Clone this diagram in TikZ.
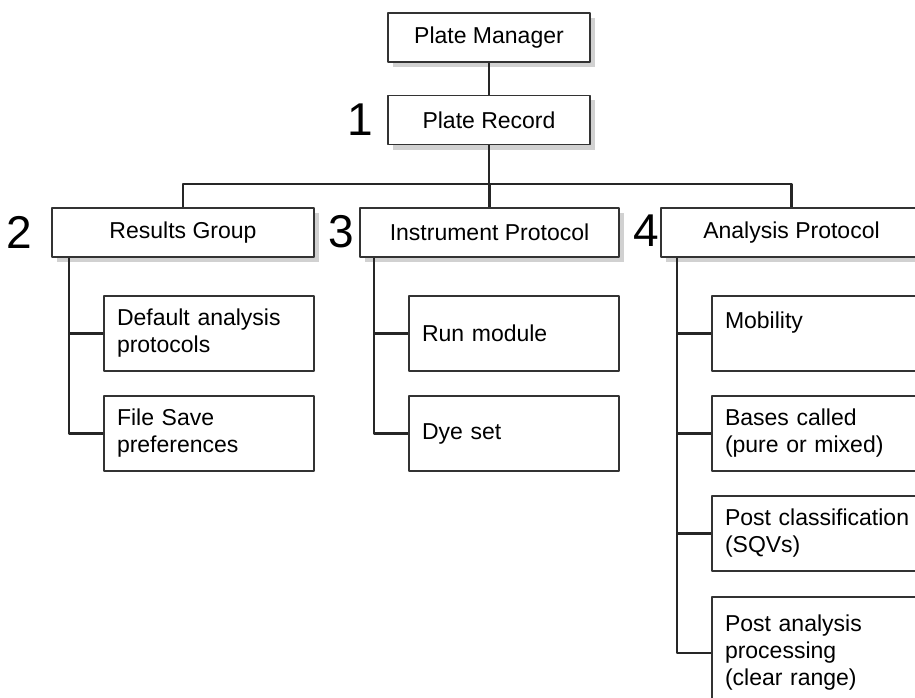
\documentclass[tikz,border=0pt]{standalone}
\usepackage{fontspec}
\setmainfont{Liberation Sans}
\usetikzlibrary{shadows}
\begin{document}
\begin{tikzpicture}[x=1pt, y=-1pt, line join=round,
  font=\fontsize{23}{27}\selectfont,
  topbox/.style={draw=black!80, line width=1.3pt, fill=white, inner sep=0pt, minimum height=49pt,
    drop shadow={shadow xshift=5pt, shadow yshift=-5pt, fill=black!18, opacity=1}},
  subbox/.style={draw=black!80, line width=1.3pt, fill=white, text width=184pt, inner xsep=13pt,
    inner ysep=0pt, align=left, minimum height=75pt},
  conn/.style={line width=2.2pt, black!85},
  num/.style={inner sep=0pt, font=\fontsize{46}{50}\selectfont}]
\useasboundingbox (0,0) rectangle (915,698);
\clip (0,0) rectangle (915,698);
% Khung tren cung
\node[topbox, minimum width=202pt] (pm) at (489,37.5) {Plate Manager};
\node[topbox, minimum width=202pt] (pr) at (489,120) {Plate Record};
\node[topbox, minimum width=262pt] (rg) at (183,232.5) {Results Group};
\node[topbox, minimum width=259pt] (ip) at (489.5,232.5) {Instrument Protocol};
\node[topbox, minimum width=261pt] (ap) at (791.5,232.5) {Analysis Protocol};
% So thu tu
\node[num] (n1) at (360,120) {1};
\node[num] (n2) at (19,232) {2};
\node[num] (n3) at (341,232) {3};
\node[num] (n4) at (646,231) {4};
% Khung con
\node[subbox] (dap) at (209,333.5) {Default analysis\\protocols};
\node[subbox] (fsp) at (209,433.5) {File Save\\preferences};
\node[subbox] (rm) at (514,333.5) {Run module};
\node[subbox] (ds) at (514,433.5) {Dye set};
\node[subbox] (mob) at (817,333.5) {Mobility\\\mbox{}};
\node[subbox] (bc) at (817,433.5) {Bases called\\(pure or mixed)};
\node[subbox] (pc) at (817,533.5) {\mbox{Post classification}\\(SQVs)};
\node[subbox, minimum height=112pt] (pap) at (817,653) {Post analysis\\processing\\(clear range)};
% Duong noi
\draw[conn] (pm) -- (pr);
\draw[conn] (pr.south) -- ++(0,39) coordinate (bar);
\draw[conn] (rg.north) |- (bar) -| (ap.north);
\draw[conn] (bar) -- (bar -| ip.north) -- (ip.north);
\coordinate (rgs) at ([xshift=18pt]rg.south west);
\coordinate (ips) at ([xshift=15pt]ip.south west);
\coordinate (aps) at ([xshift=17pt]ap.south west);
\draw[conn] (rgs) |- (fsp.west) (rgs |- dap.west) -- (dap.west);
\draw[conn] (ips) |- (ds.west) (ips |- rm.west) -- (rm.west);
\draw[conn] (aps) |- (pap.west);
\foreach \k in {mob,bc,pc}
  \draw[conn] (aps |- \k.west) -- (\k.west);
\end{tikzpicture}
\end{document}
